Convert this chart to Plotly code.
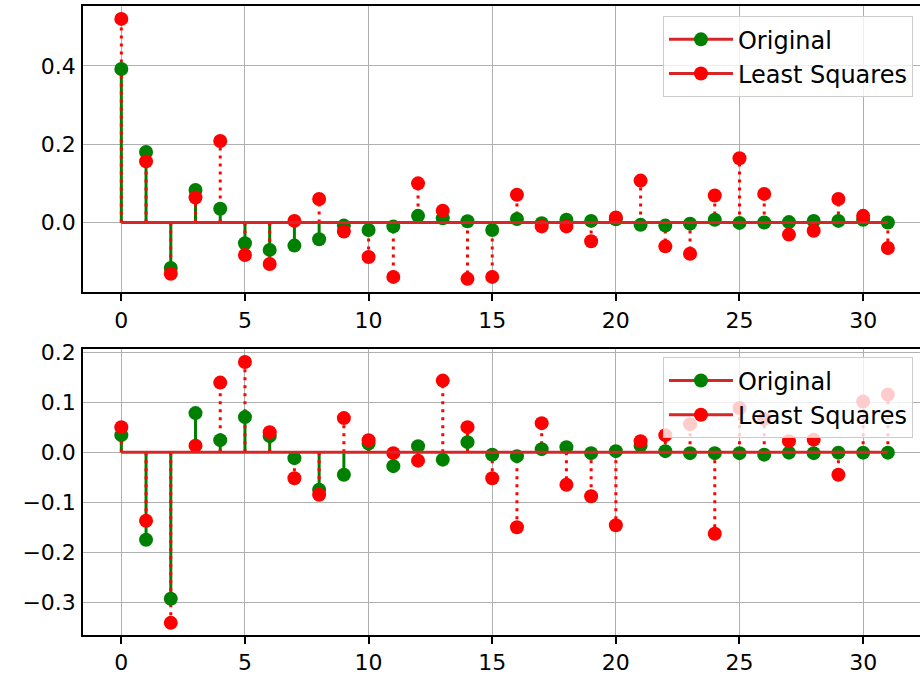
import plotly.graph_objects as go

# ---- data ----
idx = list(range(32))
top_original = [0.392, 0.180, -0.116, 0.083, 0.035, -0.053, -0.070, -0.059, -0.043, -0.008,
                -0.019, -0.010, 0.017, 0.011, 0.003, -0.019, 0.009, -0.002, 0.007, 0.004,
                0.008, -0.006, -0.008, -0.003, 0.007, -0.001, 0.000, 0.001, 0.004, 0.004,
                0.007, 0.000]
top_lsq = [0.520, 0.156, -0.131, 0.064, 0.208, -0.083, -0.106, 0.004, 0.060, -0.023,
           -0.088, -0.139, 0.100, 0.030, -0.144, -0.139, 0.071, -0.010, -0.010, -0.048,
           0.013, 0.107, -0.061, -0.080, 0.069, 0.164, 0.073, -0.031, -0.021, 0.060,
           0.017, -0.065]
bot_original = [0.034, -0.175, -0.293, 0.078, 0.024, 0.070, 0.032, -0.012, -0.075, -0.045,
                0.017, -0.028, 0.012, -0.015, 0.020, -0.005, -0.008, 0.006, 0.010, -0.002,
                0.002, 0.013, 0.002, -0.002, -0.002, -0.002, -0.005, -0.001, -0.002, -0.001,
                -0.001, -0.001]
bot_lsq = [0.050, -0.137, -0.341, 0.013, 0.139, 0.180, 0.040, -0.052, -0.085, 0.068,
           0.024, -0.002, -0.017, 0.143, 0.050, -0.052, -0.150, 0.058, -0.065, -0.088,
           -0.146, 0.022, 0.034, 0.056, -0.163, 0.088, 0.066, 0.022, 0.025, -0.045,
           0.101, 0.115]
names = ["Original", "Least Squares"]

x_tickvals = [0, 5, 10, 15, 20, 25, 30]
x_ticktext = ["0", "5", "10", "15", "20", "25", "30"]
top_y_tickvals = [0.0, 0.2, 0.4]
top_y_ticktext = ["0.0", "0.2", "0.4"]
bot_y_tickvals = [-0.3, -0.2, -0.1, 0.0, 0.1, 0.2]
bot_y_ticktext = ["\u22120.3", "\u22120.2", "\u22120.1", "0.0", "0.1", "0.2"]

GREEN = "#008000"
RED = "#ff0000"
BASE = "#d62728"
FONT = "DejaVu Sans"

TOP_YRANGE = [-0.1787, 0.553]
BOT_YRANGE = [-0.3653, 0.2056]
XRANGE = [-1.55, 32.3]


def stem_xy(xs, ys):
    sx, sy = [], []
    for x, y in zip(xs, ys):
        sx += [x, x, None]
        sy += [0, y, None]
    return sx, sy


def gap_xy(xs, ys):
    gx, gy = [], []
    for x, y in zip(xs, ys):
        gx += [x, None]
        gy += [y, None]
    return gx, gy


fig = go.Figure()


def add_panel(orig, lsq, xa, ya, legend):
    # stems
    sx, sy = stem_xy(idx, orig)
    fig.add_trace(go.Scatter(x=sx, y=sy, mode="lines", line=dict(color=GREEN, width=3),
                             showlegend=False, hoverinfo="skip", xaxis=xa, yaxis=ya))
    sx, sy = stem_xy(idx, lsq)
    fig.add_trace(go.Scatter(x=sx, y=sy, mode="lines",
                             line=dict(color=RED, width=3, dash="3px,5px"),
                             showlegend=False, hoverinfo="skip", xaxis=xa, yaxis=ya))
    # markers (line part only used for legend icon)
    for vals, col, nm in [(orig, GREEN, names[0]), (lsq, RED, names[1])]:
        gx, gy = gap_xy(idx, vals)
        fig.add_trace(go.Scatter(x=gx, y=gy, mode="lines+markers", name=nm,
                                 marker=dict(color=col, size=14, line=dict(width=0)),
                                 line=dict(color=BASE, width=3),
                                 connectgaps=False, legend=legend,
                                 xaxis=xa, yaxis=ya))
    # baseline
    fig.add_trace(go.Scatter(x=[idx[0], idx[-1]], y=[0, 0], mode="lines",
                             line=dict(color=BASE, width=3),
                             showlegend=False, hoverinfo="skip", xaxis=xa, yaxis=ya))


add_panel(top_original, top_lsq, "x", "y", "legend")
add_panel(bot_original, bot_lsq, "x2", "y2", "legend2")

tickfont = dict(family=FONT, size=22, color="black")
axis_common = dict(showline=True, linecolor="black", linewidth=1.6,
                   showgrid=True, gridcolor="#b0b0b0", gridwidth=1.4,
                   zeroline=False, automargin=False, tickmode="array",
                   tickfont=tickfont)
x_ticks = dict(ticks="outside", ticklen=7, tickwidth=1.5, tickcolor="black")
# y labels sit close to the spine; visible tick marks come from an overlay axis
y_labels = dict(ticks="outside", ticklen=1, tickwidth=1, tickcolor="rgba(0,0,0,0)")
tick_only = dict(showline=False, showgrid=False, zeroline=False, automargin=False,
                 tickmode="array", ticks="outside", ticklen=7, tickwidth=1.5,
                 tickcolor="black", showticklabels=False, side="left")

legend_common = dict(x=0.9916, xanchor="right", yanchor="top",
                     bgcolor="rgba(255,255,255,0.8)", bordercolor="#cccccc", borderwidth=1,
                     font=dict(family=FONT, size=24, color="black"), itemwidth=64)

fig.update_layout(
    width=920, height=675,
    margin=dict(l=83, r=0, t=6, b=39.5),
    plot_bgcolor="white", paper_bgcolor="white",
    xaxis=dict(domain=[0, 1], anchor="y", range=XRANGE,
               tickvals=x_tickvals, ticktext=x_ticktext, mirror=True,
               **x_ticks, **axis_common),
    yaxis=dict(domain=[0.5446, 1], anchor="x", range=TOP_YRANGE,
               tickvals=top_y_tickvals, ticktext=top_y_ticktext,
               **y_labels, **axis_common),
    xaxis2=dict(domain=[0, 1], anchor="y2", range=XRANGE,
                tickvals=x_tickvals, ticktext=x_ticktext, mirror=True,
                **x_ticks, **axis_common),
    yaxis2=dict(domain=[0, 0.4543], anchor="x2", range=BOT_YRANGE,
                tickvals=bot_y_tickvals, ticktext=bot_y_ticktext,
                **y_labels, **axis_common),
    yaxis3=dict(overlaying="y", anchor="x", range=TOP_YRANGE,
                tickvals=top_y_tickvals, **tick_only),
    yaxis4=dict(overlaying="y2", anchor="x2", range=BOT_YRANGE,
                tickvals=bot_y_tickvals, **tick_only),
    legend=dict(y=0.9837, **legend_common),
    legend2=dict(y=0.4413, **legend_common),
    showlegend=True,
)

fig.write_html("out.html")
